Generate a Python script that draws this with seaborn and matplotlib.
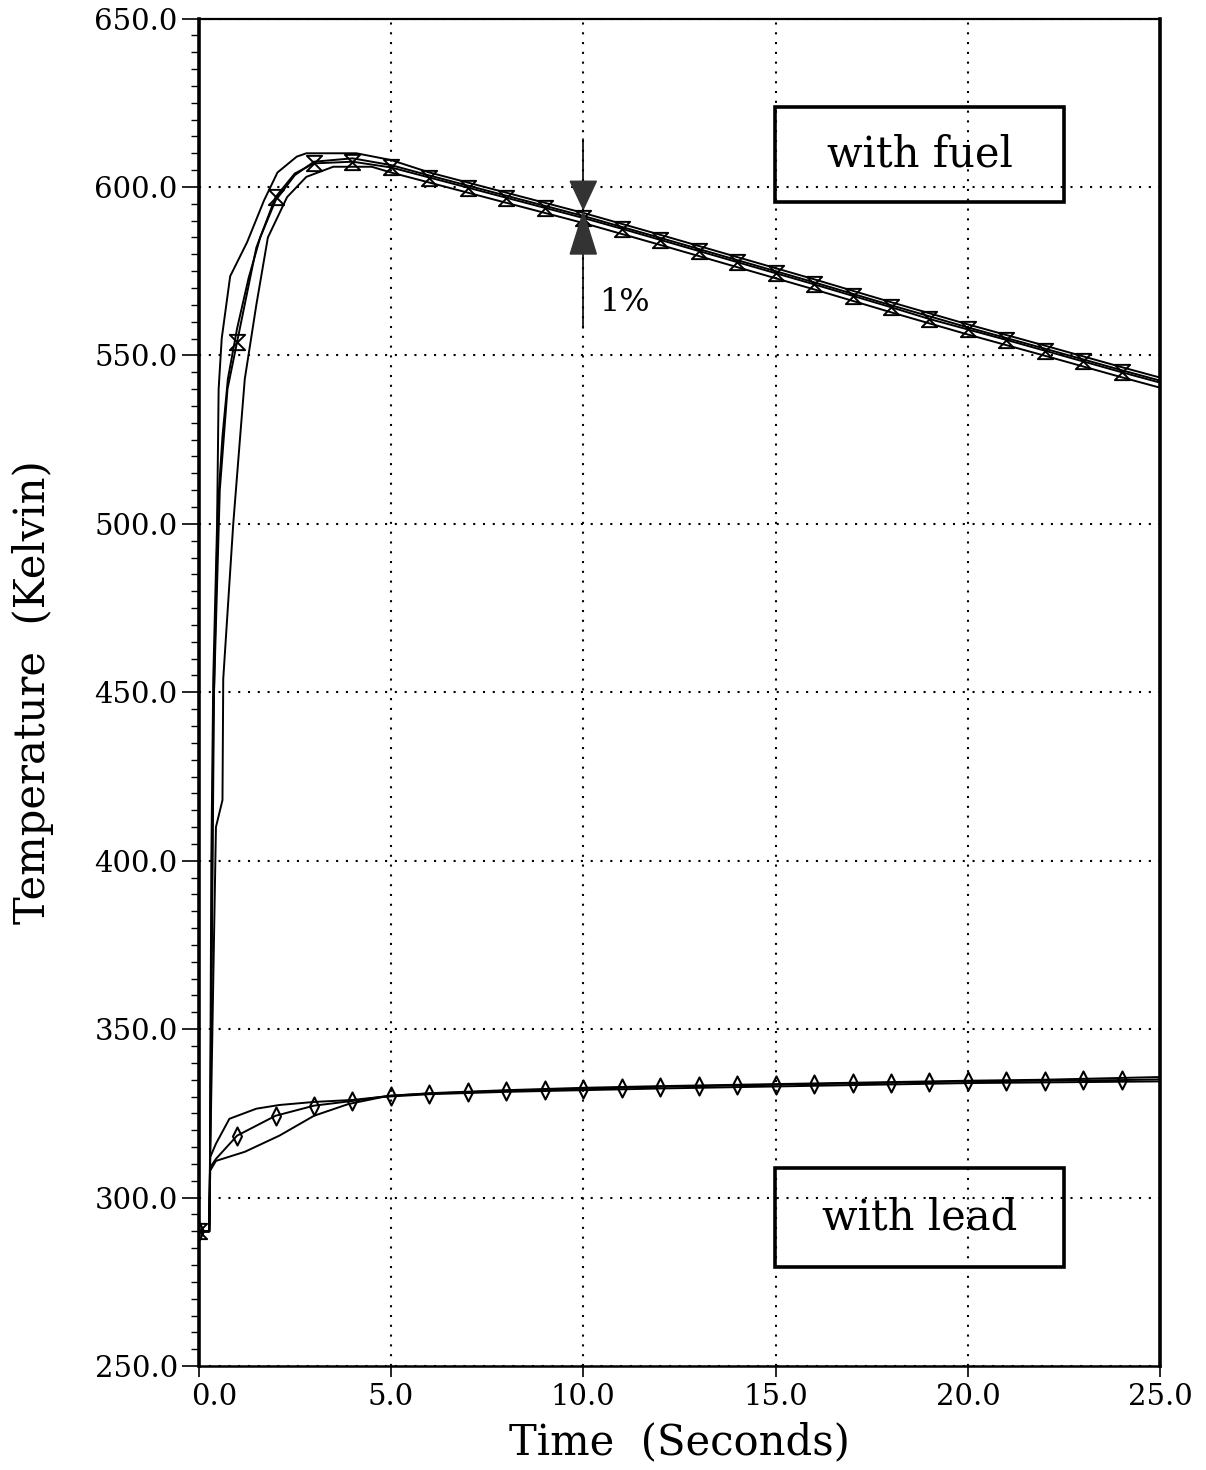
import matplotlib
matplotlib.use("Agg")
import matplotlib.pyplot as plt
from matplotlib.path import Path
from matplotlib.patches import Rectangle
import seaborn as sns

# ---------------- data ----------------
# four "with fuel" curves (time s, temperature K)
fuel_a_t = [0, 0.27, 0.29, 0.33, 0.38, 0.48, 0.52, 0.60, 0.82, 1.26, 1.70, 2.05, 2.55, 2.80, 4.10, 5.0,
            6, 8, 10, 12, 14, 16, 18, 20, 22, 24, 25]
fuel_a_T = [290, 290, 300, 400, 454, 500, 540, 555, 573.5, 583.6, 596, 604.3, 609, 610, 610, 608,
            604.3, 598.3, 592.3, 585.8, 579.2, 572.6, 565.8, 559.2, 552.9, 546.5, 543.4]

fuel_b_t = [0, 0.27, 0.29, 0.38, 0.50, 0.62, 0.76, 1.0, 1.3, 1.6, 2.0, 2.5, 3.0, 4.0, 5.0,
            6, 8, 10, 12, 14, 16, 18, 20, 22, 24, 25]
fuel_b_T = [290, 290, 302, 440, 505, 526, 543, 558, 573, 585, 596, 603.5, 607.5, 608.5, 606.5,
            603.4, 597.4, 591.4, 584.9, 578.3, 571.7, 564.9, 558.3, 552.0, 545.6, 542.5]

fuel_c_t = [0, 0.27, 0.29, 0.40, 0.55, 0.75, 1, 1.5, 2, 2.5, 3, 4, 5, 6, 7, 8, 9, 10,
            11, 12, 13, 14, 15, 16, 17, 18, 19, 20, 21, 22, 23, 24, 25]
fuel_c_T = [290, 290, 302, 450, 510, 540, 554, 582, 597, 604, 607, 607.5, 605.8, 602.8, 599.8, 596.8,
            593.8, 590.8, 587.6, 584.3, 581.0, 577.7, 574.4, 571.1, 567.7, 564.3, 560.8, 557.7,
            554.6, 551.4, 548.2, 545.0, 541.9]

fuel_d_t = [0, 0.27, 0.29, 0.45, 0.62, 0.64, 0.9, 1.08, 1.2, 1.5, 1.8, 2.3, 2.8, 3.5, 4.5, 5.0,
            6, 8, 10, 12, 14, 16, 18, 20, 22, 24, 25]
fuel_d_T = [290, 290, 305, 410, 418, 454, 500, 526, 543, 565, 585, 597, 603, 606, 606, 604.3,
            601.3, 595.3, 589.3, 582.8, 576.2, 569.6, 562.8, 556.2, 549.9, 543.5, 540.4]

# three "with lead" curves
lead_up_t = [0, 0.28, 0.30, 0.45, 0.8, 1.5, 2.1, 3.0, 4.0, 5.0, 6, 8, 10, 12, 15, 18, 20, 22, 25]
lead_up_T = [290, 290, 312, 316, 323.4, 326.4, 327.5, 328.4, 329.0, 330.2, 331.0, 331.9, 332.6,
             333.1, 333.7, 334.3, 334.7, 335.0, 335.8]

lead_mid_t = [0, 0.28, 0.30, 0.45, 1, 2, 3, 4, 5, 6, 7, 8, 9, 10, 11, 12, 13, 14, 15, 16, 17,
              18, 19, 20, 21, 22, 23, 24, 25]
lead_mid_T = [290, 290, 309, 311.5, 318.4, 324.3, 327.3, 328.7, 330.3, 330.9, 331.3, 331.7, 332.0,
              332.3, 332.6, 332.9, 333.1, 333.3, 333.5, 333.7, 333.9, 334.1, 334.3, 334.5, 334.6,
              334.7, 334.8, 334.9, 335.1]

lead_lo_t = [0, 0.28, 0.30, 0.45, 1.2, 2.1, 3.0, 3.9, 4.8, 6, 8, 10, 12, 15, 18, 20, 22, 25]
lead_lo_T = [290, 290, 308, 310.9, 313.6, 318.4, 324.3, 327.8, 329.9, 330.7, 331.4, 331.9, 332.4,
             333.0, 333.6, 334.0, 334.2, 334.5]

# marker times (integer seconds)
marker_times = [0, 1, 2, 3, 4, 5, 6, 7, 8, 9, 10, 11, 12, 13, 14, 15, 16, 17, 18, 19, 20, 21, 22, 23, 24]

# ticks
x_ticks = [0, 5, 10, 15, 20, 25]
x_ticklabels = ["0.0", "5.0", "10.0", "15.0", "20.0", "25.0"]
y_ticks = [250, 300, 350, 400, 450, 500, 550, 600, 650]
y_ticklabels = ["250.0", "300.0", "350.0", "400.0", "450.0", "500.0", "550.0", "600.0", "650.0"]

# 1% indicator and label boxes
ind_t = 10.0
ind_line = (558.0, 614.2)
ind_tri_top = (601.7, 593.4)
ind_tri_bot = (592.5, 580.1)
ind_halfwidth = 0.34
fuel_box = (14.98, 595.5, 22.5, 623.7)
lead_box = (14.98, 279.5, 22.5, 308.9)

# ---------------- style ----------------
sns.set_theme(style="ticks")
plt.rcParams["font.family"] = ["DejaVu Serif"]
for key in ["text.color", "axes.labelcolor", "xtick.color", "ytick.color", "axes.edgecolor"]:
    plt.rcParams[key] = "black"

fig = plt.figure(figsize=(12.06, 14.70), dpi=100)
ax = fig.add_axes([0.1647, 0.0707, 0.7974, 0.9167])

line_kw = dict(color="black", linewidth=1.4, sort=False, estimator=None, legend=False)
for t, T in [(fuel_a_t, fuel_a_T), (fuel_b_t, fuel_b_T), (fuel_c_t, fuel_c_T), (fuel_d_t, fuel_d_T),
             (lead_up_t, lead_up_T), (lead_mid_t, lead_mid_T), (lead_lo_t, lead_lo_T)]:
    sns.lineplot(x=t, y=T, ax=ax, **line_kw)

hourglass = Path([(-1, 1), (1, 1), (-1, -1), (1, -1), (-1, 1)],
                 [Path.MOVETO, Path.LINETO, Path.LINETO, Path.LINETO, Path.CLOSEPOLY])
diamond = Path([(0, 1), (0.5, 0), (0, -1), (-0.5, 0), (0, 1)],
               [Path.MOVETO, Path.LINETO, Path.LINETO, Path.LINETO, Path.CLOSEPOLY])

fm_t = [t for t in fuel_c_t if t in marker_times]
fm_T = [T for t, T in zip(fuel_c_t, fuel_c_T) if t in marker_times]
lm_t = [t for t in lead_mid_t if t in marker_times]
lm_T = [T for t, T in zip(lead_mid_t, lead_mid_T) if t in marker_times]

sns.lineplot(x=fm_t, y=fm_T, ax=ax, color="black", linestyle="none", marker=hourglass,
             markersize=11, markerfacecolor="none", markeredgecolor="black",
             markeredgewidth=1.4, sort=False, estimator=None, legend=False)
sns.lineplot(x=lm_t, y=lm_T, ax=ax, color="black", linestyle="none", marker=diamond,
             markersize=13, markerfacecolor="none", markeredgecolor="black",
             markeredgewidth=1.5, sort=False, estimator=None, legend=False)

# 1% indicator
ax.plot([ind_t, ind_t], ind_line, color="black", linewidth=1.2)
ax.fill([ind_t - ind_halfwidth, ind_t + ind_halfwidth, ind_t],
        [ind_tri_top[0], ind_tri_top[0], ind_tri_top[1]], color="#333333", zorder=5)
ax.fill([ind_t - ind_halfwidth, ind_t + ind_halfwidth, ind_t],
        [ind_tri_bot[1], ind_tri_bot[1], ind_tri_bot[0]], color="#333333", zorder=5)
ax.text(10.42, 565.8, "1%", fontsize=23, ha="left", va="center")

# label boxes
for (x0, y0, x1, y1), label in [(fuel_box, "with fuel"), (lead_box, "with lead")]:
    ax.add_patch(Rectangle((x0, y0), x1 - x0, y1 - y0, fill=False, edgecolor="black",
                           linewidth=2.6, zorder=6))
    ax.text((x0 + x1) / 2, (y0 + y1) / 2, label, fontsize=30, ha="center", va="center", zorder=7)

# axes
ax.set_xlim(0, 25)
ax.set_ylim(250, 650)
ax.set_xticks(x_ticks)
# first label is drawn separately, a little right of its tick as in the reference
ax.set_xticklabels([""] + x_ticklabels[1:])
ax.annotate(x_ticklabels[0], xy=(x_ticks[0], 0), xycoords=("data", "axes fraction"),
            xytext=(11, -12), textcoords="offset points", ha="center", va="top", fontsize=21)
ax.set_yticks(y_ticks)
ax.set_yticklabels(y_ticklabels)
ax.set_yticks(range(250, 651, 5), minor=True)
ax.grid(True, which="major", color="black", linestyle=(0, (1, 3.7)), linewidth=1.5)
ax.tick_params(axis="y", which="major", direction="out", length=12, width=1.2,
               labelsize=21, pad=3)
ax.tick_params(axis="y", which="minor", direction="out", length=6, width=1.0)
ax.tick_params(axis="x", which="major", direction="out", length=8, width=1.2,
               labelsize=21, pad=4)

for side, lw in [("left", 2.6), ("right", 2.6), ("top", 1.6), ("bottom", 1.8)]:
    ax.spines[side].set_linewidth(lw)

ax.set_xlabel("Time  (Seconds)", fontsize=30)
ax.set_ylabel("Temperature  (Kelvin)", fontsize=30)
ax.xaxis.set_label_coords(0.5, -0.041)
ax.yaxis.set_label_coords(-0.150, 0.5)

fig.savefig("out.png", dpi=100, facecolor="white")
